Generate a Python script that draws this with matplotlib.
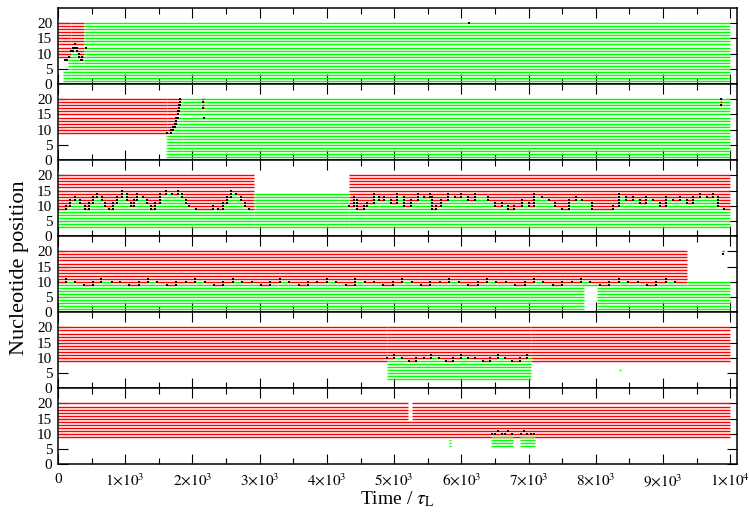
'''
Nucleotide state along the strand against time for six runs.
Red rows are one state, green rows the other, black marks the moving wall.
'''

import matplotlib
matplotlib.use('Agg')
import matplotlib.pyplot as plt
from matplotlib.ticker import FixedLocator, MultipleLocator

plt.rcParams['font.family'] = ['Liberation Serif', 'DejaVu Serif']
plt.rcParams['mathtext.fontset'] = 'stix'

'''
--------------------------------------------------------------------------------
Values read off the figure
--------------------------------------------------------------------------------
'''

x_ticks = [0, 1000, 2000, 3000, 4000, 5000, 6000, 7000, 8000, 9000, 10000]
x_tick_labels = ['0', r'$1{\times}10^{3}$', r'$2{\times}10^{3}$',
                 r'$3{\times}10^{3}$', r'$4{\times}10^{3}$',
                 r'$5{\times}10^{3}$', r'$6{\times}10^{3}$',
                 r'$7{\times}10^{3}$', r'$8{\times}10^{3}$',
                 r'$9{\times}10^{3}$', r'$1{\times}10^{4}$']
y_ticks = [0, 5, 10, 15, 20]

# blocks: (t start, t end, lowest row, highest row, state)
p1_blocks = [(0, 200, 9, 20, 'r'), (75, 200, 1, 4, 'g'),
             (145, 200, 5, 8, 'g'), (380, 10000, 1, 20, 'g')]
p1_dot_t = [100, 130, 160, 340, 360, 410, 6120]
p1_dot_row = [8, 8, 9, 8, 8, 12, 20]
# wall: start times and lowest red row after each start
p1_wall_t = [200, 230, 260, 290, 320, 350]
p1_wall_row = [11, 12, 13, 11, 9, 9]

p2_blocks = [(0, 1620, 9, 20, 'r'), (1610, 1620, 1, 8, 'g'),
             (1850, 10000, 1, 20, 'g'), (2140, 2165, 17, 20, 'r'),
             (9850, 9880, 18, 20, 'r')]
p2_dot_t = [2150, 2150, 2165, 9860, 9865]
p2_dot_row = [17, 19, 14, 18, 20]
p2_wall_t = [1620, 1680, 1710, 1740, 1760, 1780, 1800, 1820]
p2_wall_row = [9, 10, 11, 12, 14, 16, 18, 20]

p3_blocks = [(2920, 4330, 3, 14, 'g')]
p3_dot_t = []
p3_dot_row = []
p3a_wall_t = [0, 120, 180, 260, 330, 400, 460, 520, 580, 650,
              700, 760, 820, 880, 950, 1020, 1080, 1130, 1180, 1260,
              1320, 1380, 1450, 1520, 1600, 1700, 1780, 1850, 1900, 1950,
              2050, 2300, 2380, 2450, 2520, 2580, 2650, 2720, 2780, 2840]
p3a_wall_row = [9, 10, 12, 13, 11, 9, 11, 13, 14, 12,
                10, 9, 11, 13, 15, 12, 10, 12, 14, 13,
                11, 9, 11, 14, 15, 14, 15, 13, 11, 10,
                9, 10, 9, 11, 13, 15, 14, 12, 10, 9]
p3b_wall_t = [4330, 4400, 4450, 4550, 4600, 4700, 4780, 4850, 4950, 5050,
              5150, 5250, 5350, 5450, 5530, 5560, 5620, 5700, 5800, 5900,
              6000, 6100, 6200, 6400, 6500, 6600, 6700, 6780, 6900, 7000,
              7080, 7200, 7300, 7400, 7500, 7600, 7700, 7800, 7950, 8250,
              8350, 8450, 8550, 8650, 8750, 8850, 8950, 9050, 9150, 9250,
              9350, 9450, 9550, 9650, 9750, 9820, 9900]
p3b_wall_row = [10, 13, 9, 10, 11, 14, 12, 13, 11, 14,
                10, 12, 14, 13, 14, 9, 10, 12, 14, 13,
                14, 12, 14, 12, 10, 11, 9, 10, 12, 10,
                14, 13, 12, 10, 9, 12, 13, 12, 9, 10,
                14, 12, 13, 11, 13, 12, 10, 13, 12, 13,
                11, 13, 14, 13, 14, 10, 9]

p4_blocks = [(0, 7830, 1, 8, 'g'), (8020, 10000, 1, 8, 'g'),
             (9355, 10000, 9, 10, 'g'), (9880, 9900, 20, 20, 'r')]
p4_dot_t = [9890]
p4_dot_row = [19]
p4_wall_t = [0, 120, 260, 380, 520, 640, 800, 930, 1060, 1200,
             1340, 1480, 1620, 1760, 1900, 2040, 2180, 2320, 2460, 2600,
             2740, 2880, 3020, 3160, 3300, 3440, 3580, 3720, 3860, 4000,
             4140, 4280, 4420, 4560, 4700, 4840, 4980, 5120, 5260, 5400,
             5540, 5680, 5820, 5960, 6100, 6240, 6380, 6520, 6660, 6800,
             6940, 7080, 7220, 7360, 7500, 7640, 7780, 7920, 8060, 8200,
             8340, 8480, 8620, 8760, 8900, 9040, 9180]
p4_wall_row = [10, 11, 10, 9, 10, 11, 10, 10, 9, 10,
               11, 10, 9, 10, 10, 11, 10, 9, 10, 11,
               10, 10, 9, 10, 11, 10, 9, 10, 10, 11,
               10, 9, 11, 10, 10, 9, 10, 11, 10, 9,
               10, 10, 11, 10, 9, 10, 11, 10, 10, 9,
               10, 11, 10, 9, 10, 10, 11, 10, 9, 10,
               11, 10, 10, 9, 10, 11, 10]

p5_blocks = [(0, 4890, 9, 20, 'r'), (7040, 10000, 9, 20, 'r'),
             (8350, 8380, 6, 6, 'g')]
p5_dot_t = []
p5_dot_row = []
p5_wall_t = [4890, 5000, 5110, 5220, 5330, 5440, 5550, 5660, 5770, 5880,
             5990, 6100, 6210, 6320, 6430, 6540, 6650, 6760, 6870, 6980]
p5_wall_row = [10, 11, 10, 9, 10, 10, 11, 10, 9, 10,
               11, 10, 10, 9, 10, 11, 10, 9, 10, 11]

p6_blocks = [(0, 10000, 9, 14, 'r'), (0, 5210, 15, 20, 'r'),
             (5260, 10000, 15, 20, 'r'), (5820, 5850, 6, 8, 'g'),
             (6440, 6770, 6, 9, 'g'), (6865, 7100, 6, 9, 'g')]
p6_dot_t = [6450, 6500, 6550, 6600, 6650, 6700, 6750,
            6880, 6930, 6980, 7030, 7080]
p6_dot_row = [10, 10, 11, 10, 10, 11, 10, 10, 11, 10, 10, 10]

'''
--------------------------------------------------------------------------------
Collect the panels: blocks, walls (starts, rows, end time, lowest green row),
and loose dots
--------------------------------------------------------------------------------
'''

panels = [
    (p1_blocks, [(p1_wall_t, p1_wall_row, 380, 1)], p1_dot_t, p1_dot_row),
    (p2_blocks, [(p2_wall_t, p2_wall_row, 1850, 1)], p2_dot_t, p2_dot_row),
    (p3_blocks, [(p3a_wall_t, p3a_wall_row, 2920, 3),
                 (p3b_wall_t, p3b_wall_row, 10000, 3)], p3_dot_t, p3_dot_row),
    (p4_blocks, [(p4_wall_t, p4_wall_row, 9355, 9)], p4_dot_t, p4_dot_row),
    (p5_blocks, [(p5_wall_t, p5_wall_row, 7040, 3)], p5_dot_t, p5_dot_row),
    (p6_blocks, [], p6_dot_t, p6_dot_row),
]

colours = {'r': '#ff0000', 'g': '#00ff00'}
top_row = 20
line_w = 1.0

'''
--------------------------------------------------------------------------------
Plot
--------------------------------------------------------------------------------
'''

fig, axes = plt.subplots(6, 1, sharex=True, figsize=(7.49, 5.15), dpi=100)
fig.subplots_adjust(left=0.0774, right=0.984, top=0.9845, bottom=0.0984,
                    hspace=0)

for ax, (blocks, walls, dot_t, dot_row) in zip(axes, panels):

    dot_t = list(dot_t)
    dot_row = list(dot_row)

    # moving wall: red above it, green below it. Each row is merged into
    # runs of one state so that no seams show between intervals.
    for starts, rows, end, green_lo in walls:
        edges = list(starts) + [end]
        for r in range(green_lo, top_row + 1):
            runs = []
            for i, lo in enumerate(rows):
                state = 'r' if r >= lo else 'g'
                if runs and runs[-1][2] == state:
                    runs[-1][1] = edges[i + 1]
                else:
                    runs.append([edges[i], edges[i + 1], state])
            for t0, t1, state in runs:
                ax.hlines(r, t0, t1, colors=colours[state],
                          linewidth=line_w)

        for i, lo in enumerate(rows):
            dot_t.append(edges[i])
            dot_row.append(lo)
            if i > 0:
                a, b = rows[i - 1], lo
                for r in range(min(a, b), max(a, b)):
                    dot_t.append(edges[i])
                    dot_row.append(r)

    for t0, t1, lo, hi, c in blocks:
        ax.hlines(range(lo, hi + 1), t0, t1, colors=colours[c],
                  linewidth=line_w)

    ax.plot(dot_t, dot_row, 's', color='black', markersize=2.0,
            markeredgewidth=0)

    ax.set_xlim(0, 10100)
    ax.set_ylim(0, 25)
    ax.xaxis.set_major_locator(FixedLocator(x_ticks))
    ax.xaxis.set_minor_locator(MultipleLocator(500))
    ax.yaxis.set_major_locator(FixedLocator(y_ticks))
    ax.tick_params(which='both', direction='in', top=True, right=True,
                   labelsize=11, width=0.8)
    ax.tick_params(which='major', length=7, pad=4)
    ax.tick_params(which='minor', length=4)
    for side in ax.spines.values():
        side.set_linewidth(1.1)

axes[-1].set_xticklabels(x_tick_labels)
axes[-1].tick_params(axis='x', which='major', pad=6)
axes[-1].set_xlabel(r'Time / $\tau_{\rm L}$', fontsize=14, labelpad=0)

fig.text(0.026, 0.48, 'Nucleotide position', rotation=90,
         ha='center', va='center', fontsize=16)

plt.savefig('out.png', dpi=100)
